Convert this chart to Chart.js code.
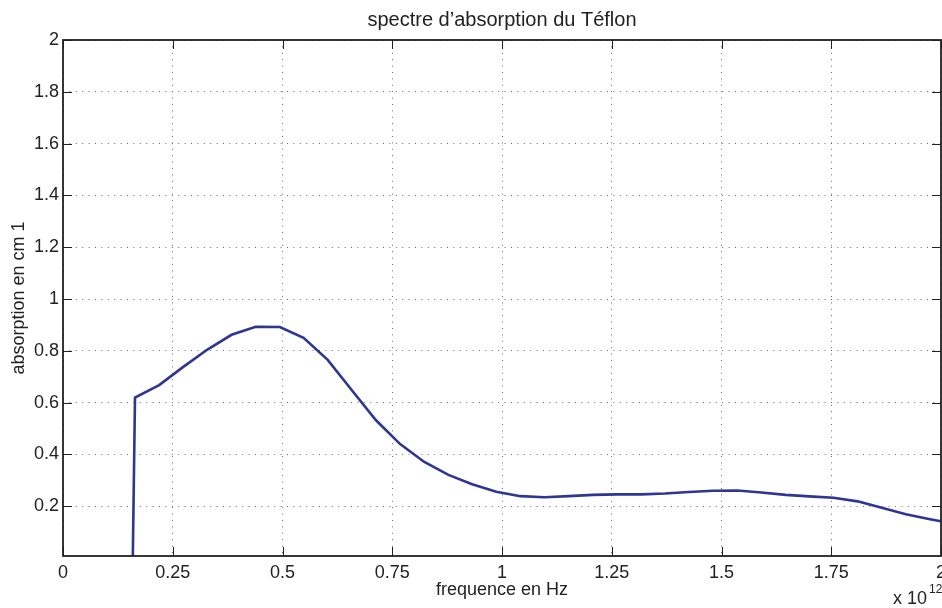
<!DOCTYPE html>
<html>
<head>
<meta charset="utf-8">
<script src="https://cdn.jsdelivr.net/npm/chart.js@4.4.0/dist/chart.umd.min.js"></script>
<style>
  html, body { margin: 0; padding: 0; background: #fff; }
  canvas { display: block; }
</style>
</head>
<body>
<canvas id="graph" width="942" height="608"></canvas>
<script>
"use strict";

// frequence (x 10^12 Hz) and absorption (cm-1)
const freq = [0.159, 0.164, 0.219, 0.274, 0.329, 0.384, 0.439, 0.494, 0.548, 0.603,
  0.658, 0.713, 0.768, 0.823, 0.878, 0.932, 0.987, 1.042, 1.097, 1.152,
  1.207, 1.262, 1.317, 1.371, 1.426, 1.481, 1.536, 1.591, 1.646, 1.700,
  1.755, 1.810, 1.865, 1.920, 1.975, 2.000];
const absorption = [0, 0.62, 0.668, 0.738, 0.805, 0.862, 0.893, 0.892, 0.850, 0.765,
  0.648, 0.532, 0.440, 0.371, 0.321, 0.285, 0.256, 0.239, 0.235, 0.239,
  0.244, 0.246, 0.246, 0.249, 0.255, 0.260, 0.261, 0.253, 0.244, 0.238,
  0.233, 0.219, 0.194, 0.169, 0.150, 0.142];

const xTicks = [0, 0.25, 0.5, 0.75, 1, 1.25, 1.5, 1.75, 2];
const yTicks = [0.2, 0.4, 0.6, 0.8, 1, 1.2, 1.4, 1.6, 1.8, 2];

const FONT = '"Liberation Sans", Arial, Helvetica, sans-serif';
const INK = '#222';

// matlab style: inward ticks on all four sides, box, and the x 10^12 exponent
const matlabAxes = {
  id: 'matlabAxes',
  afterDatasetsDraw(chart) {
    const ctx = chart.ctx;
    const a = chart.chartArea;
    const sx = chart.scales.x, sy = chart.scales.y;
    ctx.save();
    ctx.strokeStyle = INK;
    ctx.lineWidth = 1;
    ctx.beginPath();
    xTicks.forEach(function(v) {
      const px = Math.round(sx.getPixelForValue(v)) + 0.5;
      ctx.moveTo(px, a.bottom); ctx.lineTo(px, a.bottom - 9);
      ctx.moveTo(px, a.top); ctx.lineTo(px, a.top + 9);
    });
    yTicks.forEach(function(v) {
      const py = Math.round(sy.getPixelForValue(v)) + 0.5;
      ctx.moveTo(a.left, py); ctx.lineTo(a.left + 9, py);
      ctx.moveTo(a.right, py); ctx.lineTo(a.right - 9, py);
    });
    ctx.stroke();
    ctx.lineWidth = 1.8;
    ctx.strokeRect(a.left, a.top, a.right - a.left, a.bottom - a.top);

    ctx.fillStyle = INK;
    ctx.textBaseline = 'alphabetic';
    ctx.textAlign = 'left';
    ctx.font = '18px ' + FONT;
    ctx.fillText('x 10', 893, 604);
    ctx.font = '12px ' + FONT;
    ctx.fillText('12', 929, 593);
    ctx.restore();
  }
};

const points = freq.map(function(f, i) { return { x: f, y: absorption[i] }; });

new Chart(document.getElementById('graph'), {
  type: 'line',
  data: {
    datasets: [{
      data: points,
      borderColor: '#2e3592',
      borderWidth: 2.6,
      pointRadius: 0,
      tension: 0,
      fill: false,
      clip: 0
    }]
  },
  options: {
    responsive: false,
    animation: false,
    devicePixelRatio: 1,
    layout: { padding: { left: 0, right: 1, top: 0, bottom: 0 } },
    plugins: {
      legend: { display: false },
      tooltip: { enabled: false },
      title: {
        display: true,
        text: 'spectre d’absorption du Téflon',
        color: INK,
        fullSize: false,
        font: { family: FONT, size: 20, weight: 'normal', lineHeight: 1.2 },
        padding: { top: 8, bottom: 8 }
      }
    },
    scales: {
      x: {
        type: 'linear',
        min: 0,
        max: 2,
        afterBuildTicks: function(scale) {
          scale.ticks = xTicks.map(function(v) { return { value: v }; });
        },
        afterFit: function(scale) {
          scale.height = 52;
          scale.paddingLeft = 0;
          scale.paddingRight = 0;
        },
        ticks: {
          autoSkip: false,
          maxRotation: 0,
          padding: 6,
          color: INK,
          font: { family: FONT, size: 18 },
          callback: function(v) { return String(v); }
        },
        grid: {
          color: '#6a6a6a',
          lineWidth: 1,
          drawTicks: false
        },
        border: { display: false, dash: [1, 5.4] },
        title: {
          display: true,
          text: 'frequence en Hz',
          color: INK,
          font: { family: FONT, size: 18, lineHeight: 1.2 },
          padding: { top: 0, bottom: 7 }
        }
      },
      y: {
        type: 'linear',
        min: 0.008,
        max: 2,
        afterBuildTicks: function(scale) {
          scale.ticks = yTicks.map(function(v) { return { value: v }; });
        },
        afterFit: function(scale) {
          scale.width = 63;
        },
        ticks: {
          autoSkip: false,
          padding: 4,
          color: INK,
          font: { family: FONT, size: 18 },
          callback: function(v) { return String(v); }
        },
        grid: {
          color: '#6a6a6a',
          lineWidth: 1,
          drawTicks: false
        },
        border: { display: false, dash: [1, 5.4] },
        title: {
          display: true,
          text: 'absorption en cm 1',
          color: INK,
          font: { family: FONT, size: 18, lineHeight: 1.2 },
          padding: { top: 8, bottom: 0 }
        }
      }
    }
  },
  plugins: [matlabAxes]
});
</script>
</body>
</html>
